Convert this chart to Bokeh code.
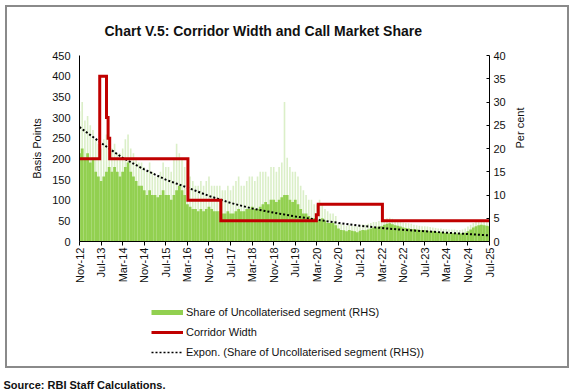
import math
from bokeh.plotting import figure
from bokeh.layouts import column
from bokeh.models import (Range1d, LinearAxis, FixedTicker, Legend, LegendItem,
                          Title, ColumnDataSource, InlineStyleSheet)
from bokeh.embed import file_html
from bokeh.resources import INLINE

# ---------------- data ----------------
tick_labels = ["Nov-12", "Jul-13", "Mar-14", "Nov-14", "Jul-15", "Mar-16", "Nov-16",
               "Jul-17", "Mar-18", "Nov-18", "Jul-19", "Mar-20", "Nov-20", "Jul-21",
               "Mar-22", "Nov-22", "Jul-23", "Mar-24", "Nov-24", "Jul-25"]
tick_months = [8 * i for i in range(len(tick_labels))]   # months since Nov-12

# monthly share of uncollateralised segment (per cent), typical level
share_core = [19, 20, 18, 19, 17, 18, 15, 14, 13, 14, 15, 16,
              15, 16, 15, 14, 15, 16, 17, 15, 14, 13, 12, 12,
              11, 10, 11, 10, 10, 9.5, 10, 11, 10, 10, 9, 10, 11, 12, 11, 10,
              8, 7.5, 7, 7, 6.5, 7, 6.5, 7, 7.5, 7, 6.5, 6.5,
              6.5, 6, 6, 6.5, 6, 6, 6.5, 7, 6.5, 6.5, 7, 7, 7.5, 7, 7, 7.5,
              8, 8.5, 8, 9, 9, 8.5, 9, 9.5, 10, 10, 9, 8.5, 9, 8, 7, 6,
              6, 5.5, 5, 5, 4.5, 4.5, 5, 4.5, 4, 4, 4, 3.5,
              2.8, 2.5, 2.4, 2.2, 2.5, 2.3, 2.2, 2.0, 2.3, 2.5, 2.4, 2.6, 2.8, 3.0, 3.0, 3.2,
              3.3, 3.6, 3.8, 3.9, 3.7, 3.5, 3.4, 3.2, 3.0, 2.9, 2.8, 2.7,
              2.7, 2.6, 2.5, 2.4, 2.4, 2.3, 2.2, 2.2, 2.1, 2.0, 2.0, 1.9, 1.9, 1.8, 1.8, 1.8,
              1.7, 1.7, 1.8, 1.9,
              2.2, 2.6, 3.0, 3.3, 3.5, 3.6, 3.5, 3.4, 3.3]
# monthly peak daily share (per cent)
share_peak = [28, 30, 26, 27, 25, 24, 22, 21, 20, 22, 23, 22,
              20, 21, 19, 19, 20, 22, 23, 20, 19, 18, 17, 17,
              16, 15, 17, 15, 14, 14, 15, 17, 16, 16, 15, 18, 21, 19, 18, 16,
              17, 14, 13, 12, 12, 13, 12, 13, 14, 12, 12, 12,
              12, 11, 11, 12, 11, 12, 13, 14, 12, 12, 13, 14, 14, 13, 14, 15,
              15, 15, 14, 16, 16, 15, 16, 17, 30, 18, 16, 15, 15, 14, 12, 11,
              10, 9, 9, 8, 8, 9, 8, 7, 6.5, 6, 6, 5.5,
              4, 3.8, 3.6, 3.4, 3.6, 3.4, 3.4, 3.2, 3.5, 3.7, 3.6, 3.8, 4, 4.2, 4.2, 4.4,
              4.5, 4.8, 5.0, 5.1, 4.9, 4.7, 4.6, 4.3, 4.1, 4.0, 3.9, 3.8,
              3.6, 3.5, 3.4, 3.3, 3.3, 3.2, 3.1, 3.0, 2.9, 2.8, 2.8, 2.7, 2.7, 2.6, 2.6, 2.6,
              2.5, 2.5, 2.6, 2.8,
              3.2, 3.6, 4.0, 4.3, 4.5, 4.6, 4.5, 4.4, 4.3]
share_months = list(range(len(share_core)))

# corridor width (basis points), step changes
corridor_months = [0, 7.5, 10.0, 10.6, 11.2, 40.2, 52.4, 87.8, 88.5, 112.3, 152]
corridor_bps = [200, 400, 300, 250, 200, 100, 50, 65, 90, 50, 50]

# exponential trend of share (per cent), read at the tick months
trend_share = [24.6, 21.2, 18.0, 15.5, 13.3, 11.6, 9.8, 8.3, 7.1, 6.2,
               5.4, 4.7, 4.0, 3.4, 2.9, 2.5, 2.2, 1.9, 1.6, 1.3]

title_text = "Chart V.5: Corridor Width and Call Market Share"
source_text = "Source: RBI Staff Calculations."
legend_labels = ["Share of Uncollaterised segment (RHS)", "Corridor Width",
                 "Expon. (Share of Uncollaterised segment (RHS))"]

# ---------------- styling ----------------
FONT = "Liberation Sans"
GREEN = "#92D050"
LIGHT_GREEN = "#dbefc8"
RED = "#C00000"
TXT = "#111111"

W = 572
H_MAIN, H_BOT = 290, 100

p = figure(width=W, height=H_MAIN, output_backend="svg", toolbar_location=None,
           x_range=Range1d(0, 152), y_range=Range1d(0, 450),
           min_border_left=79, min_border_right=W - 489, min_border_top=55,
           min_border_bottom=H_MAIN - 241)
p.extra_y_ranges = {"pct": Range1d(0, 40)}
p.xgrid.visible = False
p.ygrid.visible = False
p.outline_line_color = None
p.background_fill_color = "white"
p.border_fill_color = "white"

src = ColumnDataSource(dict(m=share_months, core=share_core, peak=share_peak))
p.vbar(x="m", top="peak", width=0.6, source=src, y_range_name="pct",
       fill_color=LIGHT_GREEN, line_color=None)
p.vbar(x="m", top="core", width=1.02, source=src, y_range_name="pct",
       fill_color=GREEN, line_color=None)

p.line(tick_months, trend_share, y_range_name="pct", line_color="black",
       line_width=2, line_dash="2 2")
p.step(corridor_months, corridor_bps, mode="after", line_color=RED,
       line_width=3, line_join="miter")

# axes
xa = p.xaxis[0]
xa.ticker = FixedTicker(ticks=tick_months)
xa.major_label_overrides = {m: l for m, l in zip(tick_months, tick_labels)}
xa.major_label_orientation = math.pi / 2
xa.minor_tick_line_color = None
xa.major_tick_in = 0
xa.major_tick_out = 4
xa.major_label_standoff = 2

ya = p.yaxis[0]
ya.ticker = FixedTicker(ticks=list(range(0, 451, 50)))
ya.minor_tick_line_color = None
ya.major_tick_in = 0
ya.major_tick_out = 0
ya.major_label_standoff = 9
ya.axis_label = "Basis Points"
ya.axis_label_standoff = 6

ra = LinearAxis(y_range_name="pct", ticker=FixedTicker(ticks=list(range(0, 41, 5))),
                axis_label="Per cent")
ra.minor_tick_line_color = None
ra.major_tick_in = 3
ra.major_tick_out = 0
ra.major_label_standoff = 4
ra.axis_label_standoff = 11
try:
    ra.axis_label_orientation = math.pi / 2
except Exception:
    pass
p.add_layout(ra, "right")

for ax in (xa, ya, ra):
    ax.axis_line_color = "black"
    ax.major_tick_line_color = "black"
    ax.major_label_text_font = FONT
    ax.major_label_text_font_size = "11px"
    ax.major_label_text_color = TXT
    ax.axis_label_text_font = FONT
    ax.axis_label_text_font_size = "11px"
    ax.axis_label_text_font_style = "normal"
    ax.axis_label_text_color = TXT

p.add_layout(Title(text=title_text, align="left", offset=25, standoff=34,
                   text_font=FONT, text_font_size="14px", text_font_style="bold",
                   text_color=TXT), "above")

# ---------------- bottom strip: legend and source ----------------
# (its frame is aligned with the chart's frame: x 79..489)
q = figure(width=W, height=H_BOT, output_backend="svg", toolbar_location=None,
           x_range=Range1d(0, 1), y_range=Range1d(0, 1),
           x_axis_location=None, y_axis_location=None, min_border=0)
q.xgrid.visible = False
q.ygrid.visible = False
q.outline_line_color = None
q.border_fill_color = "white"

# sample renderers for the legend (their points lie outside the visible range)
off = [5, 6]
lg1 = q.line(off, off, line_color=GREEN, line_width=5)
lg2 = q.line(off, off, line_color=RED, line_width=3)
lg3 = q.line(off, off, line_color="black", line_width=1.5, line_dash="2 2")
legend = Legend(items=[LegendItem(label=legend_labels[0], renderers=[lg1]),
                       LegendItem(label=legend_labels[1], renderers=[lg2]),
                       LegendItem(label=legend_labels[2], renderers=[lg3])],
                location=(72, 14), orientation="vertical",
                glyph_width=32, glyph_height=20, label_height=20, spacing=0,
                padding=0, margin=0, label_standoff=3,
                border_line_color=None, background_fill_alpha=0,
                label_text_font=FONT, label_text_font_size="11px",
                label_text_color=TXT)
q.add_layout(legend, "center")
q.add_layout(Title(text=source_text, align="left", offset=-76, standoff=0,
                   text_font=FONT, text_font_size="11px", text_font_style="bold",
                   text_color=TXT), "below")

frame_css = InlineStyleSheet(css="""
:host { position: relative; }
:host::after { content: ""; position: absolute; left: 5px; top: 5px;
  width: 564px; height: 363px; box-sizing: border-box;
  border: 2px solid #8a8a8a; pointer-events: none; z-index: 10; }
""")
layout = column(p, q, spacing=0, stylesheets=[frame_css])

open("out.html", "w").write(file_html(layout, INLINE))
